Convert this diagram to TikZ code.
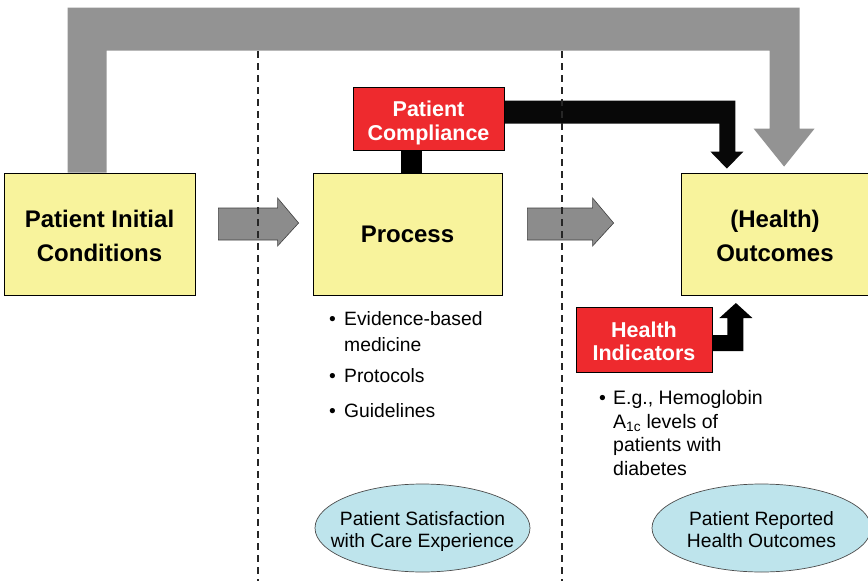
\documentclass[tikz,border=0pt]{standalone}
\usepackage{fontspec}
\setmainfont{Liberation Sans}
\usetikzlibrary{calc,shapes.geometric}
\definecolor{boxyellow}{HTML}{F8F39C}
\definecolor{boxred}{HTML}{EE2A2E}
\definecolor{bargray}{HTML}{939393}
\definecolor{arrgray}{HTML}{8C8C8C}
\definecolor{ellblue}{HTML}{BEE4EC}
\newcommand{\mydrop}[2]{\raisebox{-#1}[\height][\depth]{\begin{tabular}{@{}c@{}}#2\end{tabular}}}
\begin{document}
\begin{tikzpicture}[x=1pt,y=-1pt,
  ybox/.style={draw=black,line width=0.8pt,fill=boxyellow,inner sep=0pt,
    font=\fontsize{24}{34}\selectfont\bfseries},
  rbox/.style={draw=black,line width=0.8pt,fill=boxred,inner sep=0pt,text=white,
    font=\fontsize{21.5}{24}\selectfont\bfseries},
  oval/.style={ellipse,draw=black!70,line width=0.7pt,fill=ellblue,inner xsep=-20pt,inner ysep=0pt,
    minimum height=88pt,font=\fontsize{19.3}{22}\selectfont},
  bullets/.style={inner sep=0pt,anchor=base west},
  fatgray/.style={fill=arrgray,draw=black!75,line width=0.6pt},
  divider/.style={draw=black!85,line width=1.6pt,dash pattern=on 7pt off 5pt}]
\useasboundingbox (0,0) rectangle (868,581);

% boxes
\node[ybox,minimum width=191pt,minimum height=122pt] (init) at (99.5,234) {\mydrop{4pt}{Patient Initial\\Conditions}};
\node[ybox,minimum width=189pt,minimum height=122pt] (proc) at (407.5,234) {Process};
\node[ybox,minimum width=188pt,minimum height=122pt] (out) at (775,234) {\mydrop{4pt}{(Health)\\Outcomes}};

% big gray feedback arrow
\fill[bargray] ($(init.north west)+(64,0)$) -- ++(0,-165) -- ++(732,0) -- ++(0,121)
  -- ++(15,0) -- ++(-30.5,38) -- ++(-30.5,-38) -- ++(16,0) -- ++(0,-78) -- ++(-663,0)
  -- ++(0,122) -- cycle;

% gray horizontal arrows
\coordinate (g1a) at ($(init.east)+(23,-11)$);
\coordinate (g1b) at ($(proc.west)+(-14,-11)$);
\coordinate (g2a) at ($(proc.east)+(25,-11)$);
\coordinate (g2b) at ($(out.west)+(-67,-11)$);
\draw[fatgray] let \p1=(g1a), \p2=(g1b) in
  (\x1,\y1+15pt) -- (\x2-21pt,\y1+15pt) -- (\x2-21pt,\y1+25pt) -- (\x2,\y1) -- (\x2-21pt,\y1-23pt)
  -- (\x2-21pt,\y1-17pt) -- (\x1,\y1-17pt) -- cycle;
\draw[fatgray] let \p1=(g2a), \p2=(g2b) in
  (\x1,\y1+15pt) -- (\x2-21pt,\y1+15pt) -- (\x2-21pt,\y1+25pt) -- (\x2,\y1) -- (\x2-21pt,\y1-23pt)
  -- (\x2-21pt,\y1-17pt) -- (\x1,\y1-17pt) -- cycle;

% dividers
\coordinate (d1t) at (258,51); \coordinate (d1b) at (258,581);
\coordinate (d2t) at (562,51); \coordinate (d2b) at (562,581);

% patient compliance
\node[rbox,minimum width=151pt,minimum height=63pt] (pc) at (428.5,118.5) {};
\fill[black] ($(pc.south)+(-27.5,0)$) rectangle ($(proc.north)+(14.5,0)$);
\fill[black!97] ($(pc.north east)+(0,14)$) -- ++(231,0) -- ++(0,51) -- ++(8,0) -- ++(-16.5,17)
  -- ++(-16.5,-17) -- ++(9,0) -- ++(0,-28) -- ++(-215,0) -- cycle;
\draw[divider] (d1t) -- (d1b);
\draw[divider] (d2t) -- (d2b);
\node[rbox,minimum width=151pt,minimum height=63pt] (pctext) at (pc) {\mydrop{5pt}{Patient\\Compliance}};

% health indicators
\node[rbox,minimum width=136pt,minimum height=65pt,font=\fontsize{21.5}{23}\selectfont\bfseries] (hi) at (644,339.5) {\mydrop{5pt}{Health\\Indicators}};
\fill[black] ($(hi.east)+(0,-4.5)$) -- ++(15,0) -- ++(0,-17) -- ++(-8,0) -- ++(16.5,-15)
  -- ++(16.5,15) -- ++(-9,0) -- ++(0,33) -- ++(-31,0) -- cycle;

% bullet lists
\node[bullets] (pl) at (329,325) {\fontsize{19.3}{26}\selectfont
  \begin{tabular}[t]{@{}l@{}}
  \makebox[15pt][l]{\textbullet}Evidence-based\\
  \hspace*{15pt}medicine\\[5pt]
  \makebox[15pt][l]{\textbullet}Protocols\\[9pt]
  \makebox[15pt][l]{\textbullet}Guidelines
  \end{tabular}};
\node[bullets] (hl) at (599,404.5) {\fontsize{19.5}{23.5}\selectfont
  \begin{tabular}[t]{@{}l@{}}
  \makebox[14pt][l]{\textbullet}E.g., Hemoglobin\\
  \hspace*{14pt}A\textsubscript{1c} levels of\\
  \hspace*{14pt}patients with\\
  \hspace*{14pt}diabetes
  \end{tabular}};

% ellipses
\node[oval,minimum width=215pt] (e1) at (422.5,528) {\mydrop{4pt}{Patient Satisfaction\\with Care Experience}};
\node[oval,minimum width=219pt] (e2) at (761.5,528) {\mydrop{4pt}{Patient Reported\\Health Outcomes}};
\end{tikzpicture}
\end{document}
